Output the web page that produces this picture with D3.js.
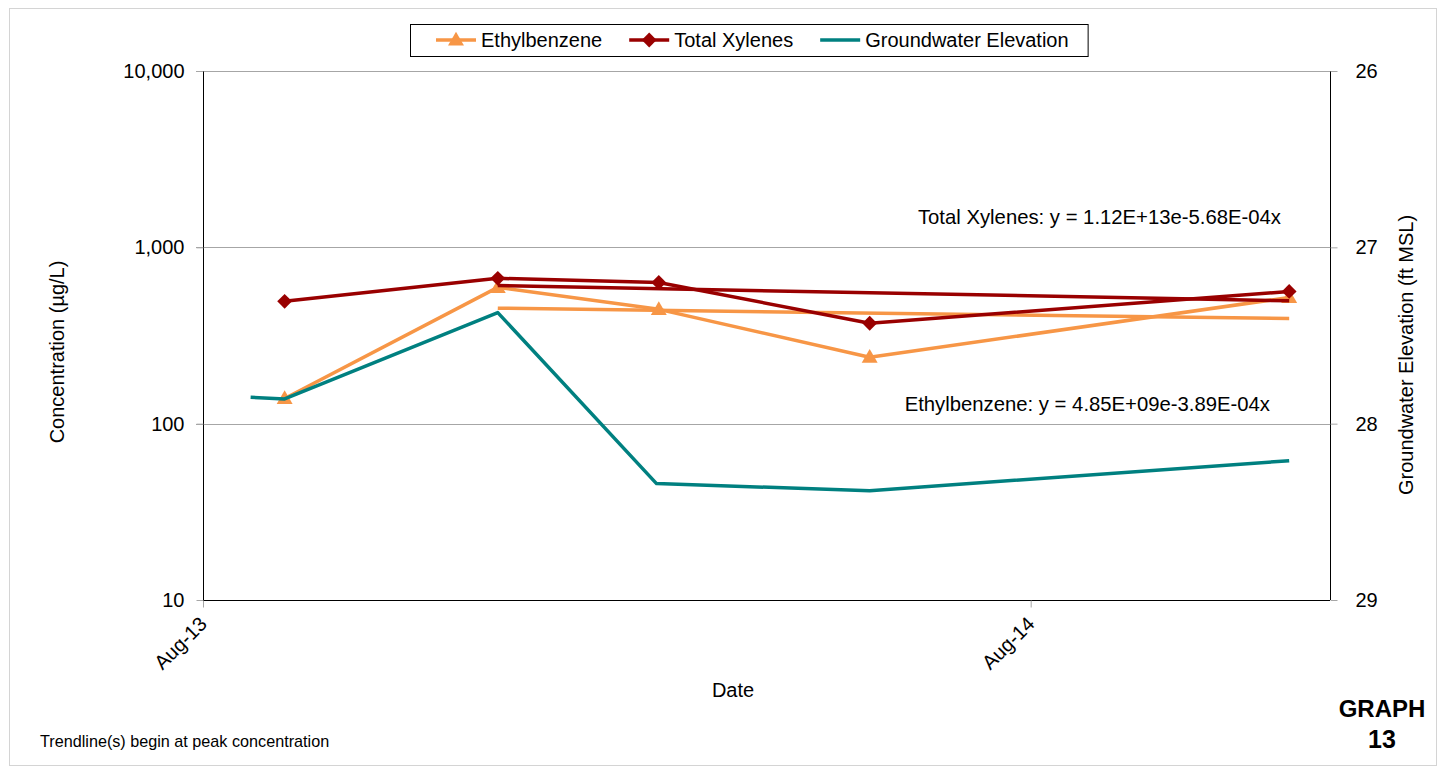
<!DOCTYPE html>
<html>
<head>
<meta charset="utf-8">
<script src="https://cdn.jsdelivr.net/npm/d3@7"></script>
<style>
  html, body { margin: 0; padding: 0; background: #fff; }
  svg { display: block; font-family: "Liberation Sans", Arial, sans-serif; }
</style>
</head>
<body>
<svg id="chart" width="1444" height="767"></svg>
<script>
// Sampling dates (well MW monitoring events)
const concDates = ["2013-09-06", "2013-12-09", "2014-02-18", "2014-05-22", "2014-11-23"];
const ethylbenzene = [139, 593, 445, 238, 520];      // µg/L
const totalXylenes = [494, 667, 632, 371, 562];      // µg/L

const gwDates = ["2013-08-22", "2013-09-06", "2013-12-09", "2014-02-17", "2014-05-22", "2014-11-23"];
const gwElevation = [27.85, 27.86, 27.37, 28.34, 28.38, 28.21]; // ft MSL

// Exponential trendlines y = a * e^(b * x), x = spreadsheet date serial
const trendEthylbenzene = { a: 4.85e9, b: -3.89e-4, label: "Ethylbenzene: y = 4.85E+09e-3.89E-04x" };
const trendXylenes = { a: 1.12e13, b: -5.68e-4, label: "Total Xylenes: y = 1.12E+13e-5.68E-04x" };

const leftTicks = [10, 100, 1000, 10000];
const rightTicks = [26, 27, 28, 29];
const xTickDates = ["2013-08-01", "2014-08-01"];
const xDomain = ["2013-08-01", "2014-12-11"];

const parse = d3.utcParse("%Y-%m-%d");
const serial = d => (d - Date.UTC(1899, 11, 30)) / 86400000;

const svg = d3.select("#chart");
const plot = { left: 203, right: 1330, top: 71, bottom: 600 };

const colors = { eth: "#F79646", xyl: "#990000", gw: "#008080" };
const gridColor = "#a6a6a6";
const FONT = "Liberation Sans, Arial, sans-serif";

// Outer chart border
svg.append("rect")
  .attr("x", 9.5).attr("y", 8.5)
  .attr("width", 1427).attr("height", 757)
  .attr("fill", "#fff").attr("stroke", "#d4d4d4").attr("stroke-width", 1);

const x = d3.scaleUtc().domain(xDomain.map(parse)).range([plot.left, plot.right]);
const yL = d3.scaleLog().domain([10, 10000]).range([plot.bottom, plot.top]);
const yR = d3.scaleLinear().domain([26, 29]).range([plot.top, plot.bottom]);

// Horizontal gridlines
svg.append("g").selectAll("line")
  .data(leftTicks.filter(t => t > 10))
  .join("line")
  .attr("x1", plot.left - 7).attr("x2", plot.right)
  .attr("y1", d => Math.round(yL(d)) + 0.5).attr("y2", d => Math.round(yL(d)) + 0.5)
  .attr("stroke", gridColor).attr("stroke-width", 1);

// Left axis
const leftAxis = svg.append("g")
  .attr("transform", `translate(${plot.left + 0.5},0)`)
  .call(d3.axisLeft(yL).tickValues(leftTicks).tickFormat(d3.format(",")).tickSize(7).tickPadding(12));
leftAxis.select(".domain").attr("stroke", "#000").attr("d", `M0,${plot.top}V${plot.bottom}`);
leftAxis.selectAll(".tick line").attr("stroke", gridColor);
leftAxis.selectAll("text").attr("font-size", 20).attr("fill", "#000").attr("font-family", FONT);

// Right axis
const rightAxis = svg.append("g")
  .attr("transform", `translate(${plot.right + 0.5},0)`)
  .call(d3.axisRight(yR).tickValues(rightTicks).tickFormat(d3.format("d")).tickSize(7).tickPadding(18));
rightAxis.select(".domain").attr("stroke", "#000").attr("d", `M0,${plot.top}V${plot.bottom}`);
rightAxis.selectAll(".tick line").attr("stroke", gridColor);
rightAxis.selectAll("text").attr("font-size", 20).attr("fill", "#000").attr("font-family", FONT);

// Bottom axis
const bottomAxis = svg.append("g")
  .attr("transform", `translate(0,${plot.bottom + 0.5})`)
  .call(d3.axisBottom(x).tickValues(xTickDates.map(parse)).tickFormat(d3.utcFormat("%b-%y")).tickSize(7).tickPadding(4));
bottomAxis.select(".domain").attr("stroke", "#000").attr("d", `M${plot.left},0H${plot.right}`);
bottomAxis.selectAll(".tick line").attr("stroke", gridColor);
bottomAxis.selectAll("text")
  .attr("font-size", 20).attr("fill", "#000").attr("font-family", FONT)
  .attr("text-anchor", "end")
  .attr("dy", "0.35em")
  .attr("transform", "translate(-8,12) rotate(-45)");

// Axis titles
svg.append("text")
  .attr("transform", `translate(64,352) rotate(-90)`)
  .attr("text-anchor", "middle").attr("font-size", 20)
  .text("Concentration (µg/L)");
svg.append("text")
  .attr("transform", `translate(1413,355) rotate(-90)`)
  .attr("text-anchor", "middle").attr("font-size", 20)
  .text("Groundwater Elevation (ft MSL)");
svg.append("text")
  .attr("x", 733).attr("y", 697)
  .attr("text-anchor", "middle").attr("font-size", 20)
  .text("Date");

// Trendlines: from the peak concentration date to the last sample
function trendPoints(dates, values, trend) {
  const iPeak = values.indexOf(d3.max(values));
  return [dates[iPeak], dates[dates.length - 1]].map(s => {
    const d = parse(s);
    return { date: d, value: trend.a * Math.exp(trend.b * serial(d)) };
  });
}
const lineConc = d3.line().x(d => x(d.date)).y(d => yL(d.value));

const ethData = concDates.map((s, i) => ({ date: parse(s), value: ethylbenzene[i] }));
const xylData = concDates.map((s, i) => ({ date: parse(s), value: totalXylenes[i] }));
const gwData = gwDates.map((s, i) => ({ date: parse(s), value: gwElevation[i] }));

const tri = d3.symbol().type(d3.symbolTriangle).size(110);
const dia = d3.symbol().type(d3.symbolDiamond2).size(140);

// Ethylbenzene series
svg.append("path").datum(ethData)
  .attr("d", lineConc).attr("fill", "none")
  .attr("stroke", colors.eth).attr("stroke-width", 3.5).attr("stroke-linejoin", "round");
svg.append("path").datum(trendPoints(concDates, ethylbenzene, trendEthylbenzene))
  .attr("d", lineConc).attr("fill", "none")
  .attr("stroke", colors.eth).attr("stroke-width", 3.5);
svg.append("g").selectAll("path").data(ethData).join("path")
  .attr("d", tri)
  .attr("transform", d => `translate(${x(d.date)},${yL(d.value) + 1})`)
  .attr("fill", colors.eth);

// Total Xylenes series
svg.append("path").datum(xylData)
  .attr("d", lineConc).attr("fill", "none")
  .attr("stroke", colors.xyl).attr("stroke-width", 3.5).attr("stroke-linejoin", "round");
svg.append("path").datum(trendPoints(concDates, totalXylenes, trendXylenes))
  .attr("d", lineConc).attr("fill", "none")
  .attr("stroke", colors.xyl).attr("stroke-width", 3.5);
svg.append("g").selectAll("path").data(xylData).join("path")
  .attr("d", dia)
  .attr("transform", d => `translate(${x(d.date)},${yL(d.value)})`)
  .attr("fill", colors.xyl);

// Groundwater elevation (secondary axis)
svg.append("path").datum(gwData)
  .attr("d", d3.line().x(d => x(d.date)).y(d => yR(d.value)))
  .attr("fill", "none").attr("stroke", colors.gw).attr("stroke-width", 3.5).attr("stroke-linejoin", "round");

// Trendline equations
svg.append("text").attr("x", 1281).attr("y", 224)
  .attr("text-anchor", "end").attr("font-size", 20.3)
  .text(trendXylenes.label);
svg.append("text").attr("x", 1270).attr("y", 411)
  .attr("text-anchor", "end").attr("font-size", 20.3)
  .text(trendEthylbenzene.label);

// Legend
const legend = svg.append("g");
const legendBox = legend.append("rect")
  .attr("x", 410.5).attr("y", 24.5).attr("height", 32)
  .attr("fill", "#fff").attr("stroke", "#000").attr("stroke-width", 1);
const items = [
  { name: "Ethylbenzene", color: colors.eth, marker: "tri" },
  { name: "Total Xylenes", color: colors.xyl, marker: "dia" },
  { name: "Groundwater Elevation", color: colors.gw, marker: null }
];
let lx = 436;
const ly = 40;
items.forEach(it => {
  legend.append("line")
    .attr("x1", lx).attr("x2", lx + 40).attr("y1", ly).attr("y2", ly)
    .attr("stroke", it.color).attr("stroke-width", 3.5);
  if (it.marker === "tri") {
    legend.append("path").attr("d", tri).attr("transform", `translate(${lx + 20},${ly + 1})`).attr("fill", it.color);
  } else if (it.marker === "dia") {
    legend.append("path").attr("d", dia).attr("transform", `translate(${lx + 20},${ly})`).attr("fill", it.color);
  }
  const t = legend.append("text")
    .attr("x", lx + 45).attr("y", ly).attr("dy", "0.35em")
    .attr("font-size", 20).text(it.name);
  lx = lx + 45 + t.node().getComputedTextLength() + 27;
});
legendBox.attr("width", lx - 27 + 19 - 410);

// Footnote and graph number
svg.append("text").attr("x", 40).attr("y", 747).attr("font-size", 16.2)
  .text("Trendline(s) begin at peak concentration");
svg.append("text").attr("x", 1382).attr("y", 717)
  .attr("text-anchor", "middle").attr("font-size", 24).attr("font-weight", "bold")
  .text("GRAPH");
svg.append("text").attr("x", 1382).attr("y", 748)
  .attr("text-anchor", "middle").attr("font-size", 25).attr("font-weight", "bold")
  .text("13");
</script>
</body>
</html>
